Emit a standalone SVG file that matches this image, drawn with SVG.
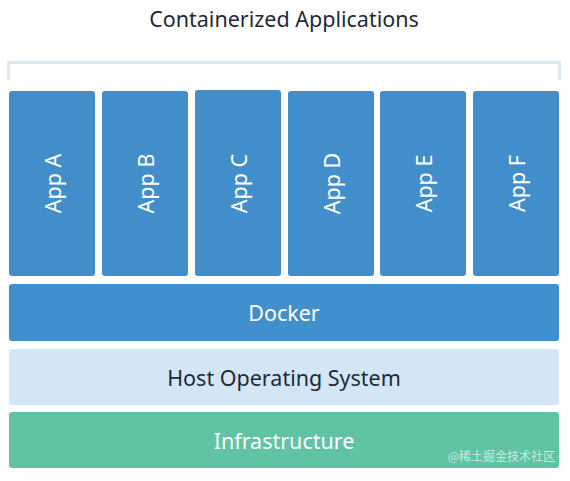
<svg xmlns="http://www.w3.org/2000/svg" width="570" height="481" viewBox="0 0 570 481">
<style>
.app{fill:#428ecb}
.lbl{font-family:"Noto Sans","Liberation Sans",sans-serif;font-size:21.5px;text-anchor:middle;dominant-baseline:central}
.w{fill:#ffffff}
.d{fill:#1f2a37}
</style>
<rect width="570" height="481" fill="#ffffff"/>
<text class="lbl d" x="284" y="18" font-size="21.8">Containerized Applications</text>
<g id="bracket">
<path d="M8.5 80 V62.5 H559.5 V80" fill="none" stroke="#dce9f5" stroke-width="3"/>
</g>
<g id="appA"><rect class="app" x="9" y="91" width="86" height="185" rx="3"/><text class="lbl w" transform="translate(52 183.5) rotate(-90)">App A</text></g>
<g id="appB"><rect class="app" x="102" y="91" width="86" height="185" rx="3"/><text class="lbl w" transform="translate(145 183.5) rotate(-90)">App B</text></g>
<g id="appC"><rect class="app" x="195" y="90" width="86" height="186" rx="3"/><text class="lbl w" transform="translate(238 183.5) rotate(-90)">App C</text></g>
<g id="appD"><rect class="app" x="288" y="91" width="86" height="185" rx="3"/><text class="lbl w" transform="translate(331 183.5) rotate(-90)">App D</text></g>
<g id="appE"><rect class="app" x="380" y="91" width="86" height="185" rx="3"/><text class="lbl w" transform="translate(423 183.5) rotate(-90)">App E</text></g>
<g id="appF"><rect class="app" x="473" y="91" width="86" height="185" rx="3"/><text class="lbl w" transform="translate(516 183.5) rotate(-90)">App F</text></g>
<g id="docker"><rect x="9" y="284" width="550" height="57" rx="3" fill="#418fcc"/><text class="lbl w" x="284" y="312">Docker</text></g>
<g id="hostos"><rect x="9" y="349" width="550" height="56" rx="3" fill="#d3e6f6"/><text class="lbl d" x="284" y="377">Host Operating System</text></g>
<g id="infra"><rect x="9" y="412" width="550" height="56" rx="3" fill="#5fc3a4"/><text class="lbl w" x="284" y="440" font-size="22">Infrastructure</text></g>
<text x="555" y="461" font-family="'Noto Sans CJK SC',sans-serif" font-size="12" fill="#e6efea" fill-opacity="0.85" text-anchor="end">@稀土掘金技术社区</text>
</svg>
